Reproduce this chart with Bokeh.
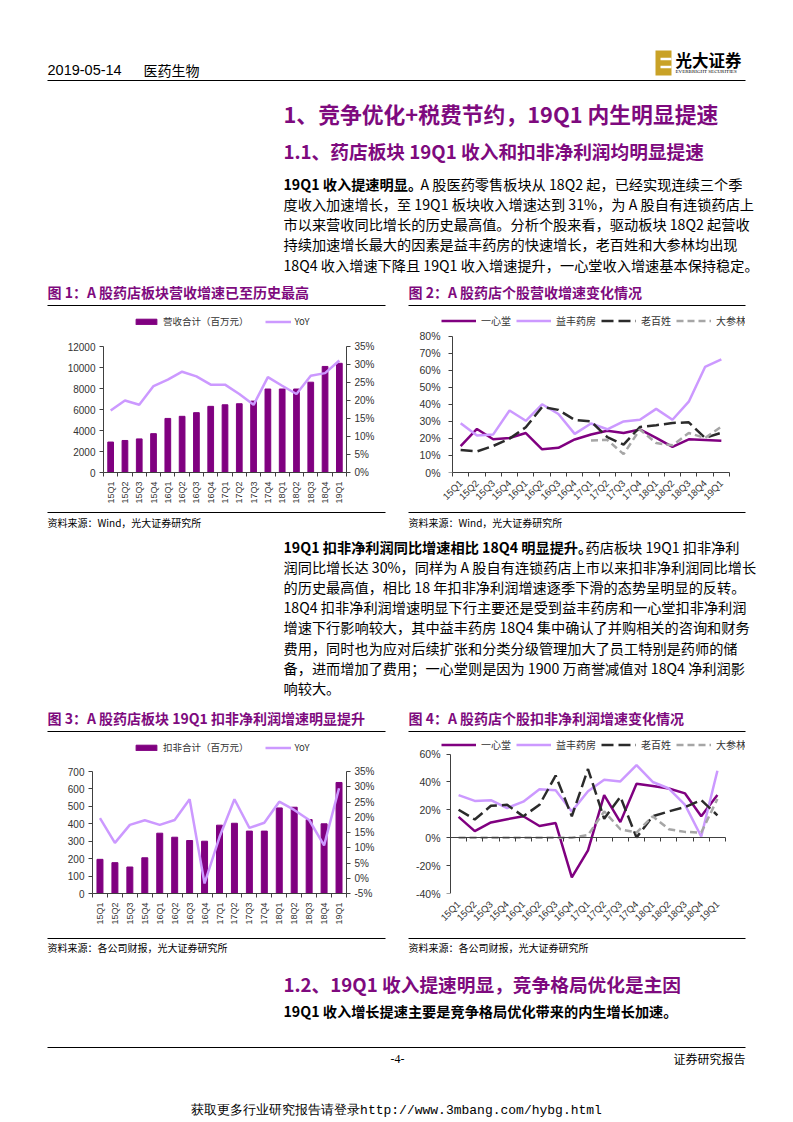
import math
from bokeh.plotting import figure
from bokeh.models import Range1d, LinearAxis, FixedTicker, PrintfTickFormatter
from bokeh.layouts import column, row
from bokeh.core.properties import value
from bokeh.embed import file_html
from bokeh.resources import INLINE

NAN = float("nan")

# ---------------- data ----------------
quarters = ["15Q1", "15Q2", "15Q3", "15Q4", "16Q1", "16Q2", "16Q3", "16Q4",
            "17Q1", "17Q2", "17Q3", "17Q4", "18Q1", "18Q2", "18Q3", "18Q4", "19Q1"]

# Fig 1: revenue total (million yuan) and YoY (%)
revenue_total = [2900, 3050, 3200, 3700, 5150, 5350, 5700, 6300, 6450, 6550,
                 6800, 7950, 7950, 7950, 8600, 10100, 10400]
revenue_yoy = [17.2, 20.0, 18.8, 24.0, 25.8, 28.0, 26.7, 24.4, 24.4, 21.8,
               18.8, 26.5, 24.1, 21.8, 26.9, 27.6, 31.1]

# Fig 2: revenue growth by company (%)
companies = ["一心堂", "益丰药房", "老百姓", "大参林"]
rev_yixintang = [15.5, 25.6, 19.5, 20.3, 23.2, 13.6, 14.5, 19.4, 22.3, 24.5,
                 23.2, 25.3, 20.3, 15.1, 19.5, 19.1, 18.6]
rev_yifeng = [29.0, 21.8, 22.4, 36.4, 30.4, 40.1, 34.4, 22.7, 28.8, 25.4,
              30.0, 31.0, 37.4, 31.0, 41.6, 62.0, 66.5]
rev_laobaixing = [13.2, 12.4, 15.6, 19.9, 26.6, 38.5, 36.8, 30.9, 30.0, 20.8,
                  16.4, 26.7, 27.8, 29.1, 29.5, 20.3, 23.4]
rev_dashenlin = [NAN, NAN, NAN, NAN, NAN, NAN, NAN, NAN, 18.8, 19.2,
                 10.8, 25.3, 17.3, 16.0, 23.2, 20.3, 27.0]

# Fig 3: non-GAAP net profit total (million yuan) and YoY (%)
np_total = [196, 177, 152, 205, 346, 323, 304, 300, 392, 403,
            358, 358, 491, 495, 424, 400, 637]
np_yoy = [19.7, 11.6, 17.5, 19.0, 17.5, 19.1, 25.9, -1.7, 13.5, 25.9,
          16.5, 18.2, 25.1, 22.4, 19.1, 10.8, 29.5]

# Fig 4: non-GAAP net profit growth by company (%)
np_yixintang = [15.0, 4.7, 11.0, 13.3, 15.4, 8.4, 10.5, -28.5, -9.1, 30.6,
                11.2, 38.8, 37.1, 35.3, 31.8, 15.4, 30.6]
np_yifeng = [30.6, 26.4, 26.9, 21.3, 25.9, 34.8, 34.1, 18.9, 33.4, 41.6,
             40.4, 52.1, 40.0, 35.3, 23.6, 0.9, 48.1]
np_laobaixing = [20.1, 13.1, 22.9, 23.6, 15.4, 23.6, 44.6, 15.4, 49.3, 13.6,
                 29.4, 0.2, 15.4, 18.9, 22.0, 27.1, 16.1]
np_dashenlin = [0, 0, 0, 0, 0, 0, 0, 0, 1.9, 18.9,
                6.1, 3.7, 15.4, 6.1, 4.2, 3.7, 27.8]

rev_left_ticks = [0, 2000, 4000, 6000, 8000, 10000, 12000]
rev_right_ticks = [0, 5, 10, 15, 20, 25, 30, 35]
rev_growth_ticks = [0, 10, 20, 30, 40, 50, 60, 70, 80]
np_left_ticks = [0, 100, 200, 300, 400, 500, 600, 700]
np_right_ticks = [-5, 0, 5, 10, 15, 20, 25, 30, 35]
np_growth_ticks = [-40, -20, 0, 20, 40, 60]

# ---------------- styles ----------------
PURPLE = "#800080"
LILAC = "#CC99FF"
DARK = "#2B2B2B"
GRAY = "#A6A6A6"
HEAD = "#7E0A7E"
AXC = "#404040"
LBL = "#333333"
CJK = "Noto Sans CJK SC"
SANS = "Liberation Sans"
PAGE_W = 790

n = len(quarters)
idx = list(range(n))
bounds = [i - 0.5 for i in range(n + 1)]
label_map = {}
for i, q in enumerate(quarters):
    label_map[i] = q
    label_map[str(i)] = q


def text_fig(y0, y1):
    p = figure(width=PAGE_W, height=y1 - y0, x_range=Range1d(0, PAGE_W), y_range=Range1d(y1, y0),
               x_axis_type=None, y_axis_type=None, output_backend="svg",
               toolbar_location=None, min_border=0, outline_line_color=None,
               background_fill_color="white", border_fill_color="white")
    return p


def put(p, x, y, s, size, color="#000000", font=CJK, bold=False, align="left"):
    p.text(x=[x], y=[y], text=[s], text_font=value(font),
           text_font_size=value(f"{size}px"),
           text_font_style=value("bold" if bold else "normal"),
           text_color=color, text_align=align, text_baseline="middle")


def hline(p, x0, x1, y, w=1.2, color="#000000"):
    p.segment(x0=[x0], y0=[y], x1=[x1], y1=[y], line_color=color, line_width=w)


def base_chart(w, h, bl, br, bt, bb, xr, yr):
    p = figure(width=w, height=h, x_range=Range1d(*xr), y_range=Range1d(*yr),
               output_backend="svg", toolbar_location=None,
               min_border_left=bl, min_border_right=br, min_border_top=bt,
               min_border_bottom=bb, outline_line_color=None,
               background_fill_color="white", border_fill_color="white")
    p.xgrid.visible = False
    p.ygrid.visible = False
    return p


def setup_x(ax, orientation, size):
    ax.ticker = FixedTicker(ticks=idx, minor_ticks=bounds)
    ax.bounds = (-0.5, n - 0.5)
    ax.major_label_overrides = label_map
    ax.major_tick_line_color = None
    ax.minor_tick_line_color = AXC
    ax.minor_tick_out = 4
    ax.minor_tick_in = 0
    ax.axis_line_color = AXC
    ax.major_label_orientation = orientation
    ax.major_label_text_font = SANS
    ax.major_label_text_font_size = size
    ax.major_label_text_color = LBL
    ax.major_label_standoff = 3


def setup_y(ax, ticks, fmt, size):
    ax.ticker = FixedTicker(ticks=ticks)
    ax.bounds = (ticks[0], ticks[-1])
    ax.formatter = PrintfTickFormatter(format=fmt)
    ax.axis_line_color = AXC
    ax.major_tick_line_color = AXC
    ax.major_tick_out = 4
    ax.major_tick_in = 0
    ax.minor_tick_line_color = None
    ax.major_label_text_font = SANS
    ax.major_label_text_font_size = size
    ax.major_label_text_color = LBL
    ax.major_label_standoff = 4


def line_only_axis(loc, minor, bnds):
    # an axis with only its line and (minor) ticks, no labels
    ax = LinearAxis(fixed_location=loc)
    ax.ticker = FixedTicker(ticks=[], minor_ticks=minor)
    ax.bounds = bnds
    ax.axis_line_color = AXC
    ax.major_tick_line_color = None
    ax.minor_tick_line_color = AXC
    ax.minor_tick_out = 4
    ax.minor_tick_in = 0
    ax.major_label_standoff = 0
    return ax


def split_y(p, ticks, size):
    # labels at the frame edge, axis line + ticks at the first category boundary
    lab = p.yaxis[0]
    setup_y(lab, ticks, "%d%%", size)
    lab.axis_line_color = None
    lab.major_tick_line_color = None
    lab.major_tick_out = 0
    lab.major_label_standoff = 1
    p.add_layout(line_only_axis(-0.5, ticks, (ticks[0], ticks[-1])), "left")


def style_legend(p, loc, glyph_w, glyph_h, spacing, size, standoff):
    lg = p.legend[0]
    lg.location = loc
    lg.orientation = "horizontal"
    lg.border_line_color = None
    lg.background_fill_alpha = 0
    lg.padding = 0
    lg.margin = 0
    lg.spacing = spacing
    lg.glyph_width = glyph_w
    lg.glyph_height = glyph_h
    lg.label_height = 12
    lg.label_standoff = standoff
    lg.label_text_font = CJK
    lg.label_text_font_size = size
    lg.label_text_color = LBL


def ext(lo, hi, px_lo, px_hi, extra_lo, extra_hi):
    # extend a data range so that the data span [lo, hi] keeps its pixel span
    per = (hi - lo) / float(px_hi - px_lo)
    return (lo - extra_lo * per, hi + extra_hi * per)


# ---------------- Fig 1 ----------------
p1 = base_chart(400, 202, 103, 54, 4, 38, (-0.5, n - 0.5),
                ext(0, 12000, 346, 472, 0, 34))
p1.extra_y_ranges = {"yoy": Range1d(*ext(0, 35, 346, 472, 0, 34))}
p1.vbar(x=idx, top=revenue_total, width=0.4, fill_color=PURPLE, line_color=PURPLE,
        legend_label="营收合计（百万元）")
p1.line(x=idx, y=revenue_yoy, y_range_name="yoy", line_color=LILAC, line_width=2.5,
        legend_label="YoY")
setup_x(p1.xaxis[0], math.pi / 2, "9px")
setup_y(p1.yaxis[0], rev_left_ticks, "%d", "10px")
ax1r = LinearAxis(y_range_name="yoy")
setup_y(ax1r, rev_right_ticks, "%d%%", "10px")
p1.add_layout(ax1r, "right")
style_legend(p1, (30, 144), 26, 7, 16, "9.5px", 4)

# ---------------- Fig 2 ----------------
p2 = base_chart(390, 202, 41, 45, 4, 37,
                ext(-0.5, n - 0.5, 452, 729, 11, 16),
                ext(0, 80, 336, 473, 0, 24))
p2.line(x=idx, y=rev_yixintang, line_color=PURPLE, line_width=2.5, legend_label=companies[0])
p2.line(x=idx, y=rev_yifeng, line_color=LILAC, line_width=2.5, legend_label=companies[1])
p2.line(x=idx, y=rev_laobaixing, line_color=DARK, line_width=2.5, line_dash="12 5",
        legend_label=companies[2])
p2.line(x=idx, y=rev_dashenlin, line_color=GRAY, line_width=2.5, line_dash="7 4",
        legend_label=companies[3])
setup_x(p2.xaxis[0], math.pi / 4, "9.5px")
split_y(p2, rev_growth_ticks, "10.5px")
style_legend(p2, (0, 144), 35, 7, 5, "10px", 5)

# ---------------- Fig 3 ----------------
p3 = base_chart(400, 203, 92, 54, 5, 43, (-0.5, n - 0.5),
                ext(0, 700, 771, 893, 0, 33))
p3.extra_y_ranges = {"yoy": Range1d(*ext(-5, 35, 771, 893, 0, 33))}
p3.vbar(x=idx, top=np_total, width=0.4, fill_color=PURPLE, line_color=PURPLE,
        legend_label="扣非合计（百万元）")
p3.line(x=idx, y=np_yoy, y_range_name="yoy", line_color=LILAC, line_width=2.5,
        legend_label="YoY")
setup_x(p3.xaxis[0], math.pi / 2, "9px")
setup_y(p3.yaxis[0], np_left_ticks, "%d", "10px")
ax3r = LinearAxis(y_range_name="yoy")
setup_y(ax3r, np_right_ticks, "%d%%", "10px")
p3.add_layout(ax3r, "right")
style_legend(p3, (41, 139), 26, 7, 16, "9.5px", 4)

# ---------------- Fig 4 ----------------
p4 = base_chart(390, 203, 41, 45, 4, 40,
                ext(-0.5, n - 0.5, 450, 725, 9, 20),
                ext(-40, 60, 753, 896, 0, 16))
p4.line(x=idx, y=np_yixintang, line_color=PURPLE, line_width=2.5, legend_label=companies[0])
p4.line(x=idx, y=np_yifeng, line_color=LILAC, line_width=2.5, legend_label=companies[1])
p4.line(x=idx, y=np_laobaixing, line_color=DARK, line_width=2.5, line_dash="12 5",
        legend_label=companies[2])
p4.line(x=idx, y=np_dashenlin, line_color=GRAY, line_width=2.5, line_dash="7 4",
        legend_label=companies[3])
setup_x(p4.xaxis[0], math.pi / 4, "9.5px")
p4.xaxis[0].axis_line_color = None
p4.xaxis[0].minor_tick_line_color = None
p4.add_layout(line_only_axis(0, bounds, (-0.5, n - 0.5)), "below")
split_y(p4, np_growth_ticks, "10.5px")
style_legend(p4, (0, 141), 35, 7, 5, "10px", 5)

# ---------------- page text ----------------
para1_lead = "19Q1 收入提速明显。"
para1 = ["A 股医药零售板块从 18Q2 起，已经实现连续三个季",
         "度收入加速增长，至 19Q1 板块收入增速达到 31%，为 A 股自有连锁药店上",
         "市以来营收同比增长的历史最高值。分析个股来看，驱动板块 18Q2 起营收",
         "持续加速增长最大的因素是益丰药房的快速增长，老百姓和大参林均出现",
         "18Q4 收入增速下降且 19Q1 收入增速提升，一心堂收入增速基本保持稳定。"]
para2_lead = "19Q1 扣非净利润同比增速相比 18Q4 明显提升。"
para2 = ["药店板块 19Q1 扣非净利",
         "润同比增长达 30%，同样为 A 股自有连锁药店上市以来扣非净利润同比增长",
         "的历史最高值，相比 18 年扣非净利润增速逐季下滑的态势呈明显的反转。",
         "18Q4 扣非净利润增速明显下行主要还是受到益丰药房和一心堂扣非净利润",
         "增速下行影响较大，其中益丰药房 18Q4 集中确认了并购相关的咨询和财务",
         "费用，同时也为应对后续扩张和分类分级管理加大了员工特别是药师的储",
         "备，进而增加了费用；一心堂则是因为 1900 万商誉减值对 18Q4 净利润影",
         "响较大。"]

PX = 283
FS = 14.2

# Band A: page y 0..308
pa = text_fig(0, 308)
put(pa, 47, 69, "2019-05-14", 14.5, font=SANS)
put(pa, 143, 69, "医药生物", 14)
pa.quad(left=[655], right=[671], top=[50], bottom=[75], fill_color="#C9A227", line_color=None)
hline(pa, 660, 671, 58.5, w=2.5, color="white")
hline(pa, 660, 671, 66.5, w=2.5, color="white")
put(pa, 675, 59, "光大证券", 16.5, bold=True)
put(pa, 675, 71, "EVERBRIGHT SECURITIES", 5, font="Liberation Serif")
hline(pa, 47, 745, 80, w=1.2)
put(pa, PX, 113, "1、竞争优化+税费节约，19Q1 内生明显提速", 21.8, color=HEAD, bold=True)
put(pa, PX, 150, "1.1、药店板块 19Q1 收入和扣非净利润均明显提速", 18.7, color=HEAD, bold=True)
for i, line in enumerate(para1):
    y = 183 + i * 20.25
    if i == 0:
        put(pa, PX, y, para1_lead, FS, bold=True)
        put(pa, 420, y, line, FS)
    else:
        put(pa, PX, y, line, FS)
put(pa, 47, 291, "图 1：A 股药店板块营收增速已至历史最高", 14, color=HEAD, bold=True)
put(pa, 408, 291, "图 2：A 股药店个股营收增速变化情况", 14, color=HEAD, bold=True)
hline(pa, 47, 385, 305)
hline(pa, 408, 745, 305)

# Band C: page y 510..733
pc = text_fig(510, 733)
hline(pc, 47, 385, 512)
hline(pc, 408, 745, 512)
put(pc, 47, 522, "资料来源：Wind，光大证券研究所", 10)
put(pc, 408, 522, "资料来源：Wind，光大证券研究所", 10)
for i, line in enumerate(para2):
    y = 546 + i * 20.2
    if i == 0:
        put(pc, PX, y, para2_lead, FS, bold=True)
        put(pc, 585, y, line, FS)
    else:
        put(pc, PX, y, line, FS)
put(pc, 47, 717, "图 3：A 股药店板块 19Q1 扣非净利润增速明显提升", 14, color=HEAD, bold=True)
put(pc, 408, 717, "图 4：A 股药店个股扣非净利润增速变化情况", 14, color=HEAD, bold=True)
hline(pc, 47, 385, 731)
hline(pc, 408, 745, 731)

# Band E: page y 936..1120
pe = text_fig(936, 1120)
hline(pe, 47, 385, 938)
hline(pe, 408, 745, 938)
put(pe, 47, 947, "资料来源：各公司财报，光大证券研究所", 10)
put(pe, 408, 947, "资料来源：各公司财报，光大证券研究所", 10)
put(pe, PX, 983, "1.2、19Q1 收入提速明显，竞争格局优化是主因", 18.7, color=HEAD, bold=True)
put(pe, PX, 1010, "19Q1 收入增长提速主要是竞争格局优化带来的内生增长加速。", FS, bold=True)
hline(pe, 47, 745, 1047, w=1.0)
put(pe, 397, 1058, "-4-", 12, font="Liberation Serif", align="center")
put(pe, 745, 1058, "证券研究报告", 12, align="right")
put(pe, 396, 1110, "获取更多行业研究报告请登录http://www.3mbang.com/hybg.html", 13,
    font="Liberation Mono", align="center")

layout = column(pa, row(p1, p2), pc, row(p3, p4), pe)
open("out.html", "w").write(file_html(layout, INLINE))
